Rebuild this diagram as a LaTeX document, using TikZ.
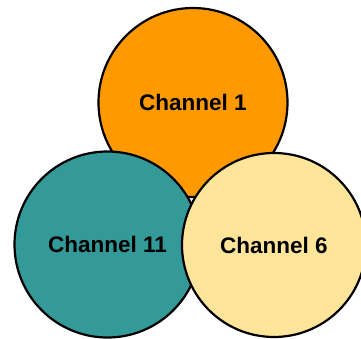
\documentclass[tikz,border=0pt]{standalone}
\usepackage{fontspec}
\setmainfont{Liberation Sans}
\usetikzlibrary{positioning}
\definecolor{chorange}{HTML}{FF9900}
\definecolor{chteal}{HTML}{339999}
\definecolor{chyellow}{HTML}{FFE599}
\tikzset{
  chan/.style={circle, draw=black, line width=2.2pt, inner sep=0pt,
               font=\fontsize{22.5}{25}\selectfont\bfseries},
}
\begin{document}
\begin{tikzpicture}[x=1pt, y=-1pt]
  \useasboundingbox (0,0) rectangle (361,339);
  % top circle first, then lower left, then lower right on top
  \node[chan, fill=chorange, minimum size=189pt] (ch1) at (193,102.5) {Channel 1};
  \node[chan, fill=chteal, minimum size=186pt] (ch11) at (107.5,244.5) {Channel 11};
  \node[chan, fill=chyellow, minimum size=184pt] (ch6) at (274,245) {Channel 6};
\end{tikzpicture}
\end{document}
